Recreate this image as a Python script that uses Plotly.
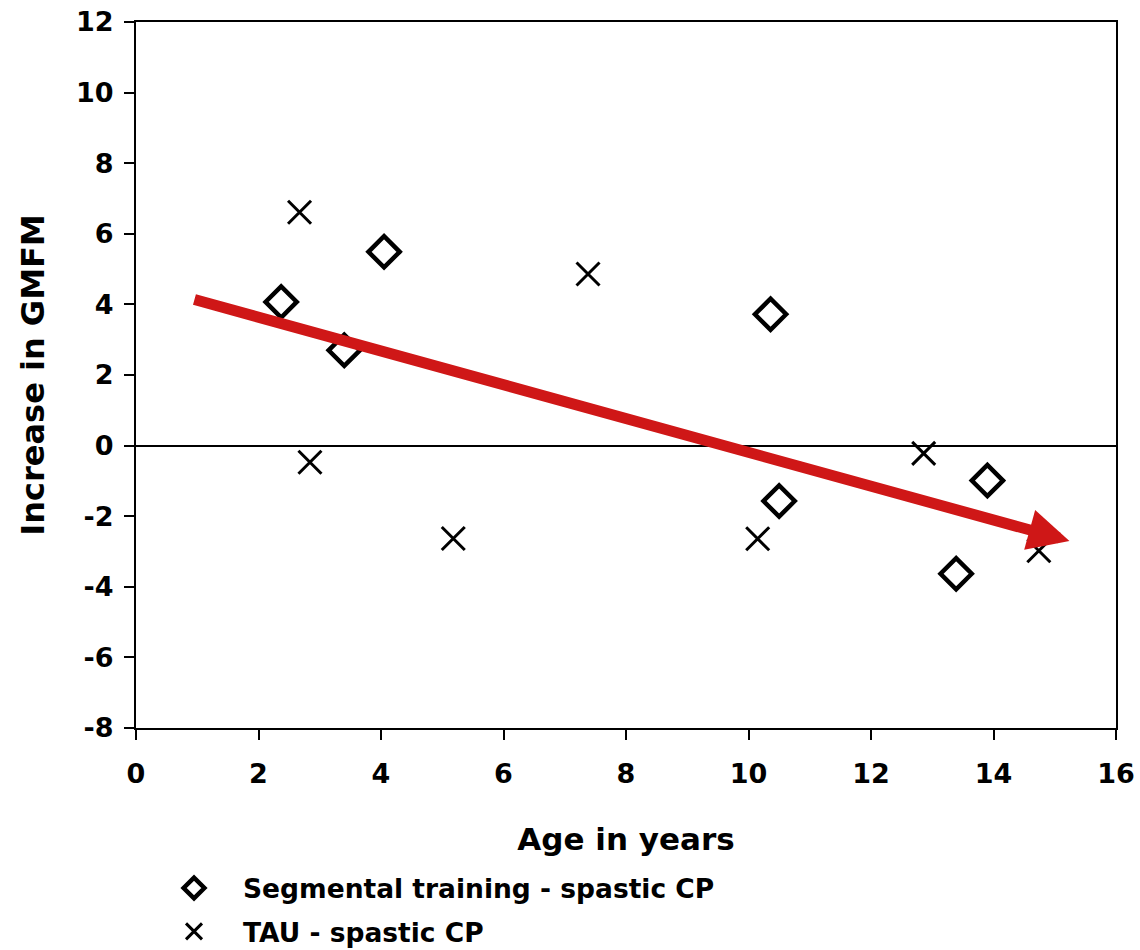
import plotly.graph_objects as go

# Segmental training - spastic CP
age_segmental = [2.37, 3.40, 4.05, 10.36, 10.50, 13.90, 13.39]
gmfm_segmental = [4.07, 2.70, 5.49, 3.72, -1.57, -0.99, -3.63]

# TAU - spastic CP
age_tau = [2.67, 2.84, 5.18, 7.38, 10.15, 12.86, 14.74]
gmfm_tau = [6.61, -0.47, -2.63, 4.86, -2.64, -0.22, -2.98]

# Trend arrow (start -> tip)
trend_x = [0.93, 15.24]
trend_y = [4.15, -2.70]

x_ticks = list(range(0, 17, 2))
y_ticks = list(range(-8, 13, 2))

FONT = "DejaVu Sans"
RED = "#CF1717"

fig = go.Figure()
fig.add_trace(go.Scatter(
    x=age_segmental, y=gmfm_segmental, mode="markers",
    name="Segmental training - spastic CP", legendgroup="a",
    marker=dict(symbol="diamond-open", size=24, color="black",
                line=dict(color="black", width=4.5)),
))
fig.add_trace(go.Scatter(
    x=age_tau, y=gmfm_tau, mode="markers",
    name="TAU - spastic CP", legendgroup="b",
    marker=dict(symbol="x-thin-open", size=23, color="black",
                line=dict(color="black", width=3)),
))

fig.add_annotation(
    x=trend_x[1], y=trend_y[1], ax=trend_x[0], ay=trend_y[0],
    xref="x", yref="y", axref="x", ayref="y",
    text="", showarrow=True, arrowhead=2, arrowsize=0.75,
    arrowwidth=11, arrowcolor=RED, standoff=0,
)

axis_common = dict(
    showline=True, linecolor="black", linewidth=2, mirror=True,
    ticks="outside", ticklen=10, tickwidth=2, tickcolor="black",
    showgrid=False, automargin=False,
    tickfont=dict(family=FONT, size=27, color="black", weight="bold"),
)

fig.update_xaxes(
    range=[0, 16], tickvals=x_ticks, ticktext=[str(v) for v in x_ticks],
    zeroline=False, ticklabelstandoff=11,
    title=dict(text="<b>Age in years</b>", font=dict(family=FONT, size=31, color="black"),
               standoff=40),
    **axis_common,
)
fig.update_yaxes(
    range=[-8, 12], tickvals=y_ticks, ticktext=[str(v) for v in y_ticks],
    zeroline=True, zerolinecolor="black", zerolinewidth=1.5, ticklabelstandoff=5,
    title=dict(text="<b>Increase in GMFM</b>", font=dict(family=FONT, size=32, color="black"),
               standoff=22),
    **axis_common,
)

fig.update_layout(
    width=1140, height=950,
    margin=dict(l=136, r=24, t=22, b=222, autoexpand=False),
    paper_bgcolor="white", plot_bgcolor="white",
    showlegend=True,
    legend=dict(
        x=0.0092, y=-0.193, xanchor="left", yanchor="top",
        font=dict(family=FONT, size=26.5, color="black", weight="bold"),
        bgcolor="rgba(0,0,0,0)", itemsizing="trace", itemwidth=88,
        traceorder="grouped", tracegroupgap=6,
    ),
)

fig.write_html("out.html")
